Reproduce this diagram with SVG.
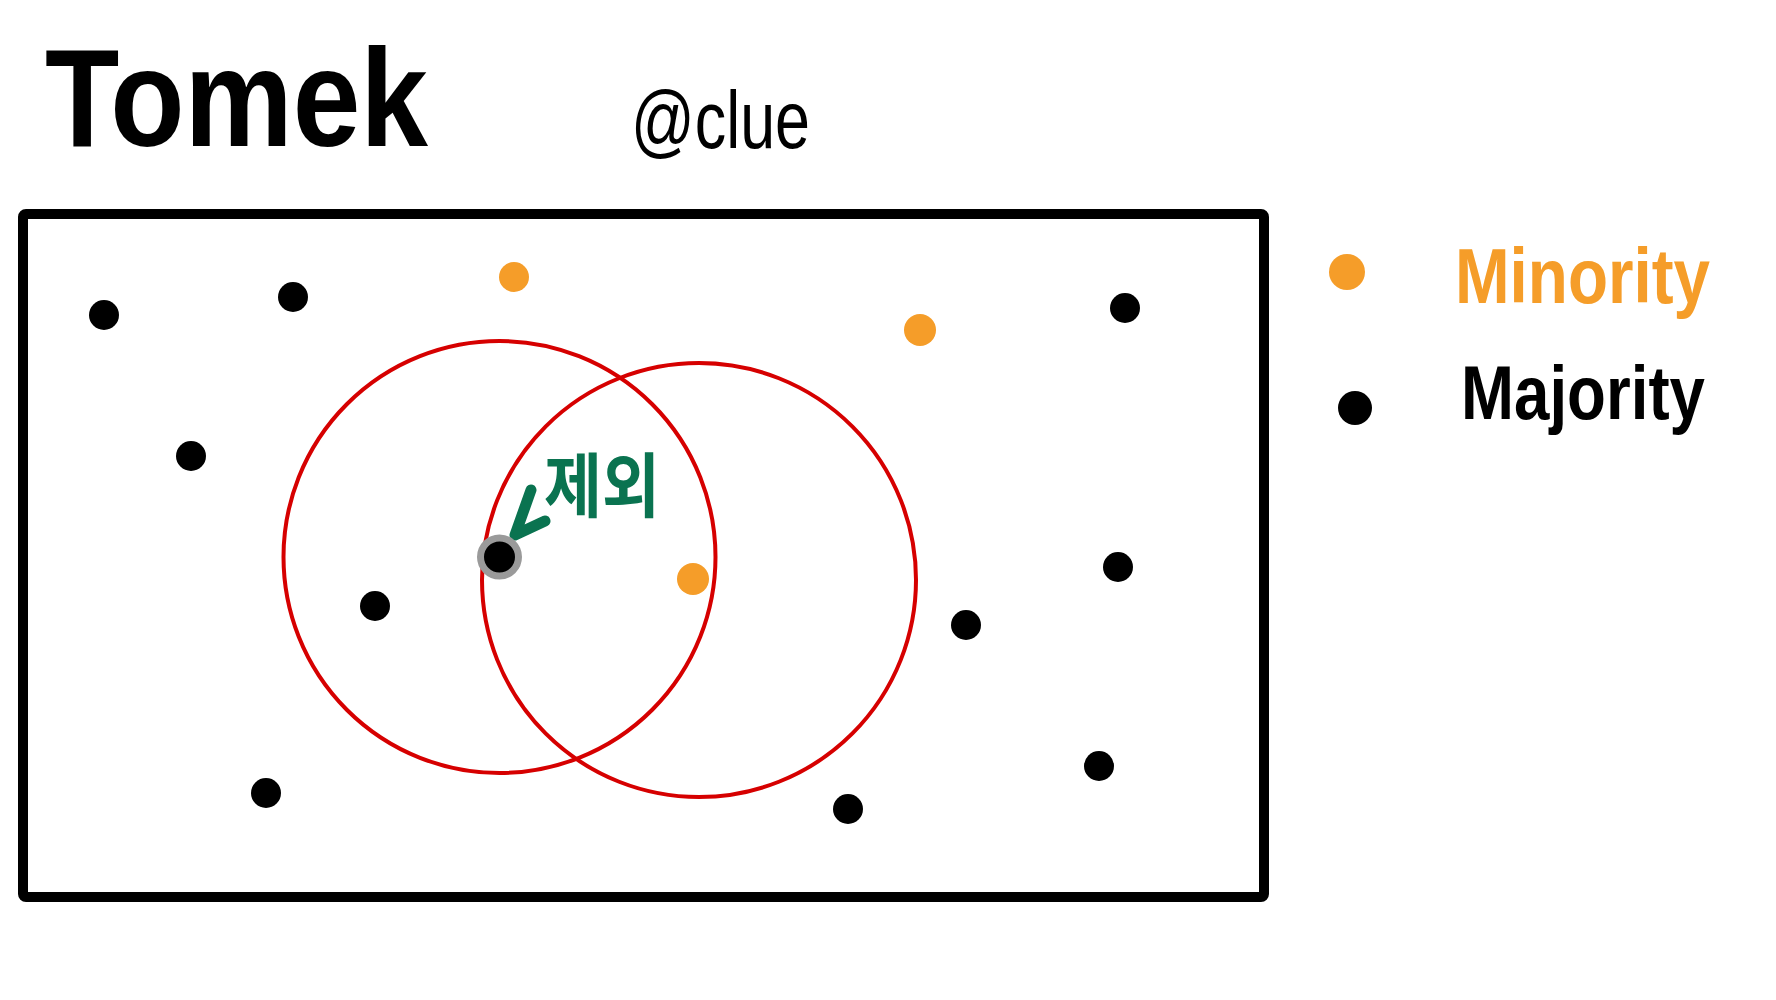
<svg xmlns="http://www.w3.org/2000/svg" width="1776" height="1000" viewBox="0 0 1776 1000">
<style>
.maj{fill:#000}
.min{fill:#f59d29}
.circ{fill:none;stroke:#d60000;stroke-width:4}
.hand{font-family:"Liberation Sans","DejaVu Sans",sans-serif;font-weight:bold}
</style>
<rect width="1776" height="1000" fill="#fff"/>
<g id="title">
<text class="hand" x="45" y="146" font-size="140" textLength="383" lengthAdjust="spacingAndGlyphs">Tomek</text>
</g>
<g id="credit">
<text x="631" y="148" font-family="Liberation Sans, sans-serif" font-size="82" textLength="179" lengthAdjust="spacingAndGlyphs">@clue</text>
</g>
<g id="frame">
<rect x="23" y="214" width="1241" height="683" rx="3" fill="none" stroke="#000" stroke-width="10"/>
</g>
<g id="connectors">
<circle class="circ" cx="499.5" cy="557" r="216"/>
<circle class="circ" cx="699" cy="580" r="217"/>
<path d="M531,490 L515,535 L545,521" fill="none" stroke="#0a7350" stroke-width="11" stroke-linecap="round" stroke-linejoin="round"/>
</g>
<g id="majority-points">
<circle class="maj" cx="104" cy="315" r="15"/>
<circle class="maj" cx="293" cy="297" r="15"/>
<circle class="maj" cx="191" cy="456" r="15"/>
<circle class="maj" cx="375" cy="606" r="15"/>
<circle class="maj" cx="266" cy="793" r="15"/>
<circle class="maj" cx="1125" cy="308" r="15"/>
<circle class="maj" cx="1118" cy="567" r="15"/>
<circle class="maj" cx="966" cy="625" r="15"/>
<circle class="maj" cx="848" cy="809" r="15"/>
<circle class="maj" cx="1099" cy="766" r="15"/>
</g>
<g id="tomek-point">
<circle cx="499.5" cy="557" r="19" fill="#000" stroke="#9a9a9a" stroke-width="7"/>
</g>
<g id="minority-points">
<circle class="min" cx="514" cy="277" r="15"/>
<circle class="min" cx="920" cy="330" r="16"/>
<circle class="min" cx="693" cy="579" r="16"/>
</g>
<g id="label-exclude">
<text x="544" y="512" font-family="Noto Sans CJK KR, sans-serif" font-weight="bold" font-size="70" fill="#0a7350" textLength="116" lengthAdjust="spacingAndGlyphs">제외</text>
</g>
<g id="legend-minority">
<circle class="min" cx="1347" cy="272" r="18"/>
<text class="hand" x="1455" y="303" font-size="78" fill="#f59d29" textLength="255" lengthAdjust="spacingAndGlyphs">Minority</text>
</g>
<g id="legend-majority">
<circle class="maj" cx="1355" cy="408" r="17"/>
<text class="hand" x="1461" y="419" font-size="76" textLength="244" lengthAdjust="spacingAndGlyphs">Majority</text>
</g>
</svg>
